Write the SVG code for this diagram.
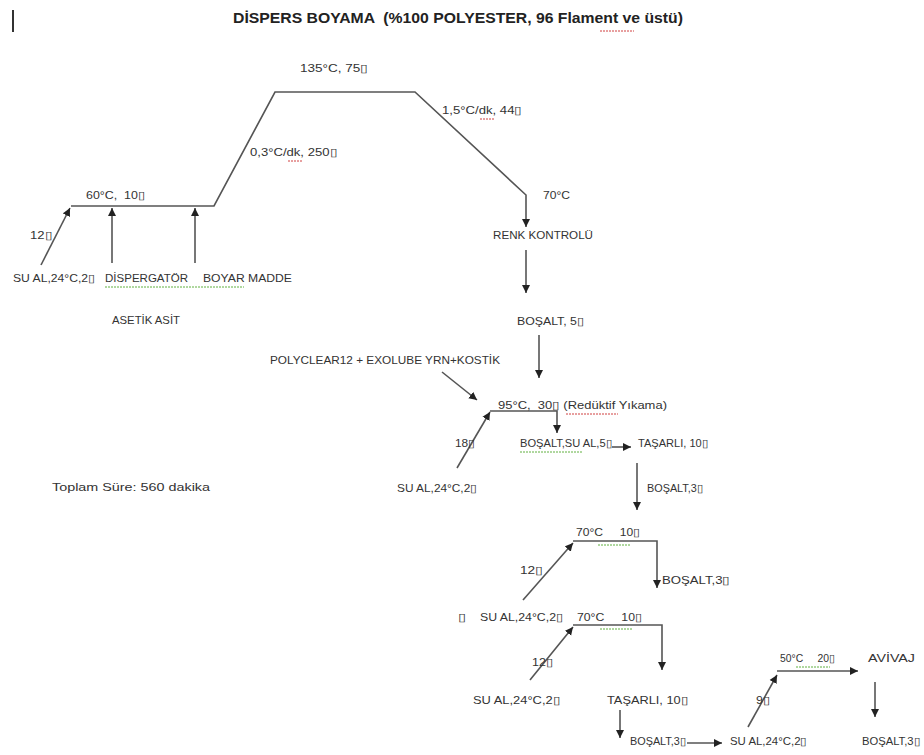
<svg xmlns="http://www.w3.org/2000/svg" width="924" height="755" viewBox="0 0 924 755">
<style>
text{font-family:"Liberation Sans",Arial,sans-serif;font-size:10.5px;fill:#333;white-space:pre}
.t{font-size:15px;font-weight:bold;fill:#222}
.ln{stroke:#555;stroke-width:1.6;fill:none}
.ar{marker-end:url(#ah)}
.red{stroke:#d04040;stroke-width:1;fill:none;stroke-dasharray:2 1}
.grn{stroke:#60b040;stroke-width:1;fill:none;stroke-dasharray:2 1}
</style>
<defs>
<marker id="ah" markerUnits="userSpaceOnUse" markerWidth="9" markerHeight="9" refX="8" refY="4.5" orient="auto">
<path d="M0,0.5 L8,4.5 L0,8.5 Z" fill="#222"/>
</marker>
</defs>
<rect width="924" height="755" fill="#fff"/>
<line x1="13" y1="10" x2="13" y2="32" stroke="#333" stroke-width="2"/>
<g id="title"><text class="t" x="233" y="23" textLength="450" lengthAdjust="spacingAndGlyphs">DİSPERS BOYAMA  (%100 POLYESTER, 96 Flament ve üstü)</text>
<path class="red" d="M600,31 L634,31"/></g>

<g id="connectors">
<polyline class="ln ar" points="71,206 214,206 275,92 415,92 526,195 526,227"/>
<line class="ln ar" x1="41" y1="265" x2="70" y2="208"/>
<line class="ln ar" x1="112" y1="263" x2="112" y2="208"/>
<line class="ln ar" x1="195" y1="263" x2="195" y2="208"/>
<line class="ln ar" x1="526" y1="250" x2="526" y2="293"/>
<line class="ln ar" x1="539" y1="335" x2="539" y2="378"/>
<line class="ln ar" x1="442" y1="372" x2="477" y2="400"/>
<line class="ln ar" x1="457" y1="468" x2="490" y2="412"/>
<polyline class="ln ar" points="490,411 557,411 557,433"/>
<line class="ln ar" x1="612" y1="447" x2="631" y2="447"/>
<line class="ln ar" x1="637" y1="463" x2="637" y2="510"/>
<line class="ln ar" x1="523" y1="600" x2="573" y2="543"/>
<polyline class="ln ar" points="573,541 657,541 657,588"/>
<line class="ln ar" x1="530" y1="680" x2="573" y2="627"/>
<polyline class="ln ar" points="573,625 662,625 662,670"/>
<line class="ln ar" x1="620" y1="710" x2="620" y2="738"/>
<line class="ln ar" x1="687" y1="743" x2="722" y2="743"/>
<line class="ln ar" x1="748" y1="727" x2="777" y2="675"/>
<line class="ln ar" x1="777" y1="671" x2="858" y2="671"/>
<line class="ln ar" x1="875" y1="682" x2="875" y2="717"/>
</g>

<g id="n-135"><text x="300" y="72" textLength="68" lengthAdjust="spacingAndGlyphs">135°C, 75▯</text></g>
<g id="n-cool"><text x="442" y="114" textLength="80" lengthAdjust="spacingAndGlyphs">1,5°C/dk, 44▯</text><path class="red" d="M480,119 L495,119"/></g>
<g id="n-heat"><text x="250" y="156" textLength="87" lengthAdjust="spacingAndGlyphs">0,3°C/dk, 250▯</text><path class="red" d="M288,161 L303,161"/></g>
<g id="n-60"><text x="86" y="199" textLength="59" lengthAdjust="spacingAndGlyphs">60°C,  10▯</text></g>
<g id="n-70"><text x="543" y="199" textLength="27" lengthAdjust="spacingAndGlyphs">70°C</text></g>
<g id="n-12a"><text x="30" y="239" textLength="22" lengthAdjust="spacingAndGlyphs">12▯</text></g>
<g id="n-renk"><text x="493" y="239" textLength="100" lengthAdjust="spacingAndGlyphs">RENK KONTROLÜ</text></g>
<g id="n-sual1"><text x="13" y="282" textLength="82" lengthAdjust="spacingAndGlyphs">SU AL,24°C,2▯</text></g>
<g id="n-disp"><text x="105" y="282" textLength="83" lengthAdjust="spacingAndGlyphs">DİSPERGATÖR</text></g>
<g id="n-boyar"><text x="203" y="282" textLength="89" lengthAdjust="spacingAndGlyphs">BOYAR MADDE</text><path class="grn" d="M105,287 L244,287"/></g>
<g id="n-asetik"><text x="112" y="324" textLength="68" lengthAdjust="spacingAndGlyphs">ASETİK ASİT</text></g>
<g id="n-bosalt5"><text x="517" y="325" textLength="67" lengthAdjust="spacingAndGlyphs">BOŞALT, 5▯</text></g>
<g id="n-poly"><text x="270" y="364" textLength="230" lengthAdjust="spacingAndGlyphs">POLYCLEAR12 + EXOLUBE YRN+KOSTİK</text></g>
<g id="n-95"><text x="498" y="409" textLength="169" lengthAdjust="spacingAndGlyphs">95°C,  30▯ (Redüktif Yıkama)</text><path class="red" d="M566,414 L618,414"/></g>
<g id="n-18"><text x="455" y="447" textLength="20" lengthAdjust="spacingAndGlyphs">18▯</text></g>
<g id="n-bosaltsu"><text x="520" y="447" textLength="92" lengthAdjust="spacingAndGlyphs">BOŞALT,SU AL,5▯</text><path class="grn" d="M520,452 L583,452"/></g>
<g id="n-tasarli1"><text x="638" y="447" textLength="70" lengthAdjust="spacingAndGlyphs">TAŞARLI, 10▯</text></g>
<g id="n-sual2"><text x="397" y="492" textLength="80" lengthAdjust="spacingAndGlyphs">SU AL,24°C,2▯</text></g>
<g id="n-bosalt3a"><text x="647" y="492" textLength="56" lengthAdjust="spacingAndGlyphs">BOŞALT,3▯</text></g>
<g id="n-toplam"><text x="52" y="491" textLength="158" lengthAdjust="spacingAndGlyphs">Toplam Süre: 560 dakika</text></g>
<g id="n-70a"><text x="576" y="536" textLength="64" lengthAdjust="spacingAndGlyphs">70°C     10▯</text><path class="grn" d="M598,545 L630,545"/></g>
<g id="n-12b"><text x="520" y="574" textLength="23" lengthAdjust="spacingAndGlyphs">12▯</text></g>
<g id="n-bosalt3b"><text x="662" y="584" textLength="68" lengthAdjust="spacingAndGlyphs">BOŞALT,3▯</text></g>
<g id="n-box"><text x="458" y="621" textLength="8" lengthAdjust="spacingAndGlyphs">▯</text></g>
<g id="n-sual3"><text x="480" y="621" textLength="83" lengthAdjust="spacingAndGlyphs">SU AL,24°C,2▯</text></g>
<g id="n-70b"><text x="577" y="621" textLength="65" lengthAdjust="spacingAndGlyphs">70°C     10▯</text><path class="grn" d="M600,629 L632,629"/></g>
<g id="n-12c"><text x="532" y="666" textLength="21" lengthAdjust="spacingAndGlyphs">12▯</text></g>
<g id="n-sual4"><text x="473" y="704" textLength="87" lengthAdjust="spacingAndGlyphs">SU AL,24°C,2▯</text></g>
<g id="n-tasarli2"><text x="607" y="704" textLength="81" lengthAdjust="spacingAndGlyphs">TAŞARLI, 10▯</text></g>
<g id="n-bosalt3c"><text x="630" y="745" textLength="56" lengthAdjust="spacingAndGlyphs">BOŞALT,3▯</text></g>
<g id="n-sual5"><text x="730" y="745" textLength="77" lengthAdjust="spacingAndGlyphs">SU AL,24°C,2▯</text></g>
<g id="n-9"><text x="756" y="704" textLength="14" lengthAdjust="spacingAndGlyphs">9▯</text></g>
<g id="n-50"><text x="780" y="662" textLength="55" lengthAdjust="spacingAndGlyphs">50°C     20▯</text><path class="grn" d="M796,667 L830,667"/></g>
<g id="n-avivaj"><text x="868" y="662" textLength="47" lengthAdjust="spacingAndGlyphs">AVİVAJ</text></g>
<g id="n-bosalt3d"><text x="862" y="745" textLength="58" lengthAdjust="spacingAndGlyphs">BOŞALT,3▯</text></g>
</svg>
